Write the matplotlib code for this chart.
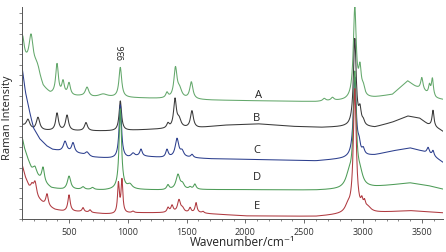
import numpy as np
import matplotlib
matplotlib.use("Agg")
import matplotlib.pyplot as plt
from matplotlib.ticker import MultipleLocator

plt.rcParams['font.family'] = ['Open Sans', 'DejaVu Sans']

# ---- data (wavenumber cm-1, intensity a.u. incl. stacking offset) ----
labels = ["A", "B", "C", "D", "E"]
colors = ["#64a86c", "#3a3a3a", "#2c3f8e", "#4e9c58", "#b03a40"]

# baseline knots (wavenumber, intensity)
base_A = [(100, 15.5), (140, 15.0), (200, 14.3), (240, 13.8), (280, 12.7), (340, 12.1), (420, 11.9),
          (600, 11.9), (700, 11.8), (900, 11.8), (1100, 11.75), (1700, 11.55), (2000, 11.5),
          (2600, 11.4), (2850, 11.5), (3100, 11.8), (3250, 12.1), (3380, 13.4), (3440, 12.9),
          (3500, 12.5), (3550, 12.1), (3620, 11.7), (3680, 11.6)]
base_B = [(100, 9.1), (200, 8.6), (400, 8.55), (900, 8.55), (1200, 8.7), (1600, 8.85), (1800, 9.1),
          (2100, 9.25), (2400, 9.0), (2650, 8.9), (2850, 8.95), (3100, 8.9), (3250, 9.4),
          (3380, 10.0), (3480, 9.8), (3550, 9.2), (3650, 8.7), (3680, 8.5)]
base_C = [(100, 14.8), (115, 13.5), (130, 12.3), (150, 11.2), (175, 9.9), (200, 8.8), (250, 7.8),
          (310, 7.1), (360, 6.75), (420, 6.6), (600, 6.3), (700, 6.0), (900, 5.85), (1000, 5.9),
          (1100, 6.1), (1300, 5.95), (1500, 5.95), (1700, 5.85), (2000, 5.8), (2600, 5.65),
          (2830, 5.85), (3100, 6.2), (3250, 6.6), (3400, 6.9), (3500, 6.6), (3600, 6.1), (3680, 5.5)]
base_D = [(100, 8.0), (120, 6.9), (150, 5.8), (180, 4.8), (220, 4.1), (260, 3.7), (300, 3.35),
          (350, 3.0), (450, 2.85), (600, 2.85), (800, 2.8), (1000, 2.9), (1100, 2.85), (1300, 2.8),
          (1600, 2.85), (2000, 2.85), (2600, 2.8), (2800, 2.85), (3100, 3.1), (3250, 3.3),
          (3400, 3.5), (3550, 3.25), (3680, 2.9)]
base_E = [(100, 5.3), (130, 4.0), (160, 3.1), (200, 2.5), (240, 1.9), (280, 1.5), (330, 1.15),
          (380, 0.9), (450, 0.75), (600, 0.7), (800, 0.5), (900, 0.45), (1000, 0.55), (1100, 0.6),
          (1300, 0.6), (1600, 0.6), (1700, 0.5), (2000, 0.3), (2600, 0.25), (2780, 0.4),
          (3100, 0.6), (3400, 0.8), (3680, 0.6)]

# peaks (position cm-1, height above baseline, FWHM cm-1)
peaks_A = [(105, 2.1, 32), (177, 3.1, 42), (225, 0.8, 55), (398, 3.0, 28), (449, 1.3, 26),
           (500, 1.2, 28), (653, 0.9, 36), (790, 0.3, 90), (936, 2.9, 28), (1333, 0.5, 25),
           (1405, 2.9, 32), (1440, 0.8, 45), (1540, 1.65, 32), (2670, 0.25, 30), (2740, 0.3, 30),
           (2930, 8.8, 30), (2974, 2.5, 26), (3002, 0.8, 30), (3500, 1.2, 24), (3565, 0.9, 20),
           (3590, 1.7, 20)]
peaks_B = [(151, 0.8, 35), (236, 1.25, 35), (398, 1.7, 28), (483, 1.5, 30), (644, 0.8, 30),
           (936, 2.9, 25), (1341, 0.45, 25), (1401, 2.75, 28), (1435, 0.8, 40), (1545, 1.65, 30),
           (2930, 8.5, 28), (2974, 1.4, 24), (3002, 0.4, 26), (3595, 1.6, 20)]
peaks_C = [(466, 1.0, 35), (534, 0.95, 30), (653, 0.35, 35), (936, 5.2, 25), (1044, 0.35, 35),
           (1112, 0.65, 24), (1333, 0.75, 25), (1418, 1.8, 36), (1461, 0.55, 35), (1546, 0.3, 25),
           (2930, 7.7, 30), (2966, 0.9, 24), (3002, 0.55, 26), (3553, 0.6, 24), (3595, 0.5, 20)]
peaks_D = [(211, 0.8, 40), (279, 1.45, 28), (500, 1.3, 34), (619, 0.25, 30), (700, 0.2, 30),
           (936, 7.8, 25), (1018, 0.4, 45), (1341, 0.45, 25), (1426, 1.45, 40), (1465, 0.45, 35),
           (1529, 0.2, 25), (1570, 0.5, 25), (2880, 1.1, 65), (2930, 10.8, 30), (2975, 1.1, 55)]
peaks_E = [(185, 0.5, 24), (211, 1.25, 30), (313, 1.15, 25), (500, 1.6, 24), (619, 0.4, 20),
           (678, 0.25, 20), (920, 2.9, 18), (950, 3.2, 18), (1044, 0.15, 25), (1342, 0.45, 22),
           (1376, 0.65, 24), (1435, 1.2, 30), (1465, 0.35, 30), (1529, 0.45, 20), (1580, 0.95, 20),
           (1639, 0.15, 20), (2870, 0.6, 55), (2930, 12.0, 30), (2990, 0.75, 20), (3012, 0.65, 20),
           (3040, 0.45, 65)]

bases = [base_A, base_B, base_C, base_D, base_E]
peaks = [peaks_A, peaks_B, peaks_C, peaks_D, peaks_E]
label_pos = [(2107, 12.1), (2098, 9.9), (2098, 6.8), (2098, 4.1), (2098, 1.36)]

wn = np.arange(100, 3681, 2.0)


def spectrum(base, pk):
    bx, by = zip(*base)
    y = np.interp(wn, bx, by)
    for c, h, w in pk:
        y = y + h / (1.0 + (2.0 * (wn - c) / w) ** 2)
    return y


W, H = 446, 253
fig = plt.figure(figsize=(W / 100, H / 100), dpi=100)
ax = fig.add_axes([22 / W, 1 - 220 / H, 421 / W, 212 / H])

for base, pk, col in zip(bases, peaks, colors):
    ax.plot(wn, spectrum(base, pk), color=col, lw=0.75)

for lab, (x, y) in zip(labels, label_pos):
    ax.text(x, y, lab, ha="center", va="center", fontsize=8, color="#222222")

ax.text(950, 16.3, "936", rotation=90, ha="center", va="center", fontsize=6.5, color="#222222")

ax.set_xlim(100, 3680)
ax.set_ylim(0, 20.6)
ax.xaxis.set_major_locator(MultipleLocator(500))
ax.xaxis.set_minor_locator(MultipleLocator(100))
ax.yaxis.set_major_locator(MultipleLocator(1))
ax.set_yticklabels([])
ax.tick_params(axis="x", which="major", length=3, width=0.6, pad=3, labelsize=6.5,
               colors="#555555", labelcolor="#333333")
ax.tick_params(axis="x", which="minor", length=1.5, width=0.5, colors="#555555")
ax.tick_params(axis="y", which="major", length=2.5, width=0.5, colors="#555555")
for s in ["top", "right"]:
    ax.spines[s].set_visible(False)
for s in ["left", "bottom"]:
    ax.spines[s].set_color("#555555")
    ax.spines[s].set_linewidth(0.7)

fig.text(242 / W, 1 - 243 / H, "Wavenumber/cm⁻¹", ha="center", va="center", fontsize=8.5,
         color="#222222")
fig.text(8 / W, 1 - 118 / H, "Raman Intensity", ha="center", va="center", rotation=90,
         fontsize=8, color="#222222")

fig.savefig("out.png", dpi=100)
